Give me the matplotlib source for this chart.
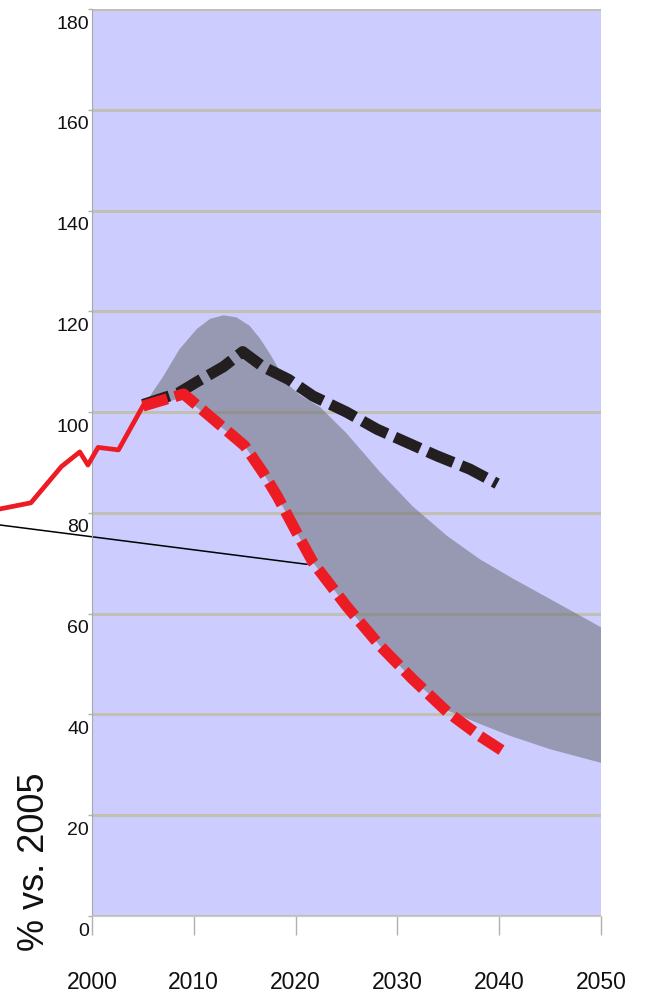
import numpy as np
import matplotlib
matplotlib.use("Agg")
import matplotlib.pyplot as plt
import matplotlib.transforms as mtransforms

plt.rcParams["font.family"] = ["Liberation Sans", "DejaVu Sans"]

# historical emissions (% vs. 2005), solid red
hist_years = [1991, 1994, 1997, 1998.8, 1999.6, 2000.6, 2002.6, 2005]
hist_vals = [80.8, 82.0, 89.2, 92.1, 89.5, 93.0, 92.5, 101.2]

# reduction pathway, dashed red
red_years = [2005, 2009, 2015, 2016.8, 2018.2, 2020, 2021.7, 2025, 2028.3, 2031.5, 2034.9, 2038.1, 2040.4]
red_vals = [101.2, 103.6, 93.3, 88.0, 83.3, 76.5, 70.2, 61.5, 53.6, 47.0, 40.5, 35.7, 32.7]

# business-as-usual pathway, dashed black
bau_years = [2005, 2008.5, 2010.3, 2012.9, 2014.8, 2016.8, 2019.3, 2021.7, 2025, 2028, 2030.9, 2033.9, 2037.1, 2039.8]
bau_vals = [101.5, 103.8, 106.0, 109.0, 112.0, 109.0, 106.5, 103.2, 100.0, 96.6, 94.0, 91.3, 88.7, 85.8]

# range of scenarios (grey band)
band_up_years = [2005.2, 2005.7, 2007.0, 2008.6, 2010.3, 2011.6, 2012.9, 2014.2, 2015.5, 2016.5, 2017.5,
                 2018.5, 2019.4, 2020.5, 2022.4, 2025.0, 2028.3, 2031.5, 2034.9, 2038.1, 2041.4, 2045.0, 2050.0]
band_up_vals = [101.6, 103.2, 107.1, 112.5, 116.5, 118.5, 119.2, 118.8, 117.1, 114.6, 111.5,
                108.0, 105.2, 103.3, 101.0, 95.8, 88.1, 81.3, 75.4, 70.8, 66.9, 62.9, 57.3]
band_lo_years = [2005.2, 2009.0, 2015.0, 2016.8, 2018.2, 2020.0, 2021.7, 2025.0, 2028.3, 2031.5, 2034.9,
                 2038.0, 2041.0, 2045.0, 2050.0]
band_lo_vals = [100.6, 103.0, 93.3, 88.0, 83.3, 76.5, 70.2, 61.5, 53.6, 47.0, 40.8,
                38.2, 35.8, 33.1, 30.4]

# leader line (annotation pointer)
leader_years = [1990.96, 2021.1]
leader_vals = [77.6, 69.8]

x_ticks = [2000, 2010, 2020, 2030, 2040, 2050]
y_ticks = [0, 20, 40, 60, 80, 100, 120, 140, 160, 180]

fig = plt.figure(figsize=(6.45, 9.95), dpi=100)
ax = fig.add_axes([92 / 645, 78 / 995, 509 / 645, 907 / 995])
ax.set_facecolor("#ccccff")
ax.set_xlim(2000, 2050)
ax.set_ylim(0, 180)

ax.set_axisbelow(True)
ax.yaxis.grid(True, color="#c2c0b2", linewidth=2.2, zorder=0.5)

band_x = np.concatenate([band_up_years, band_lo_years[::-1]])
band_y = np.concatenate([band_up_vals, band_lo_vals[::-1]])
ax.fill(band_x, band_y, color="#6f7276", alpha=0.57, linewidth=0, zorder=1)

ax.plot(hist_years, hist_vals, color="#ed1c24", linewidth=3.4, clip_on=False,
        solid_joinstyle="round", zorder=3)
ax.plot(bau_years, bau_vals, color="#231f20", linewidth=8, dashes=(2.5, 0.75),
        dash_capstyle="butt", clip_on=False, zorder=3)
ax.plot(red_years, red_vals, color="#ed1c24", linewidth=8, dashes=(2.3, 0.7),
        dash_capstyle="butt", clip_on=False, zorder=4)
ax.plot(leader_years, leader_vals, color="black", linewidth=1.1, clip_on=False, zorder=2)

for side in ["top", "right"]:
    ax.spines[side].set_visible(False)
ax.spines["left"].set_color("#a8a8a8")
ax.spines["bottom"].set_color("#c8c8c8")

ax.set_xticks(x_ticks)
ax.set_xticklabels([str(t) for t in x_ticks])
ax.tick_params(axis="x", direction="out", length=14, width=1, color="#b0b0b0",
               pad=25, labelsize=16.5, labelcolor="#111111")

ax.set_yticks(y_ticks)
ax.set_yticklabels([str(t) for t in y_ticks])
ax.tick_params(axis="y", direction="out", length=3, width=1, color="#b0b0b0",
               pad=-1, labelsize=14, labelcolor="#111111")
for lbl in ax.get_yticklabels():
    lbl.set_verticalalignment("top")
    lbl.set_transform(lbl.get_transform() + mtransforms.ScaledTranslation(0, -4 / 72, fig.dpi_scale_trans))

fig.text(35 / 645, 1 - 862 / 995, "% vs. 2005", rotation=90, fontsize=26,
         ha="center", va="center", color="#111111")

fig.savefig("out.png", dpi=100)
